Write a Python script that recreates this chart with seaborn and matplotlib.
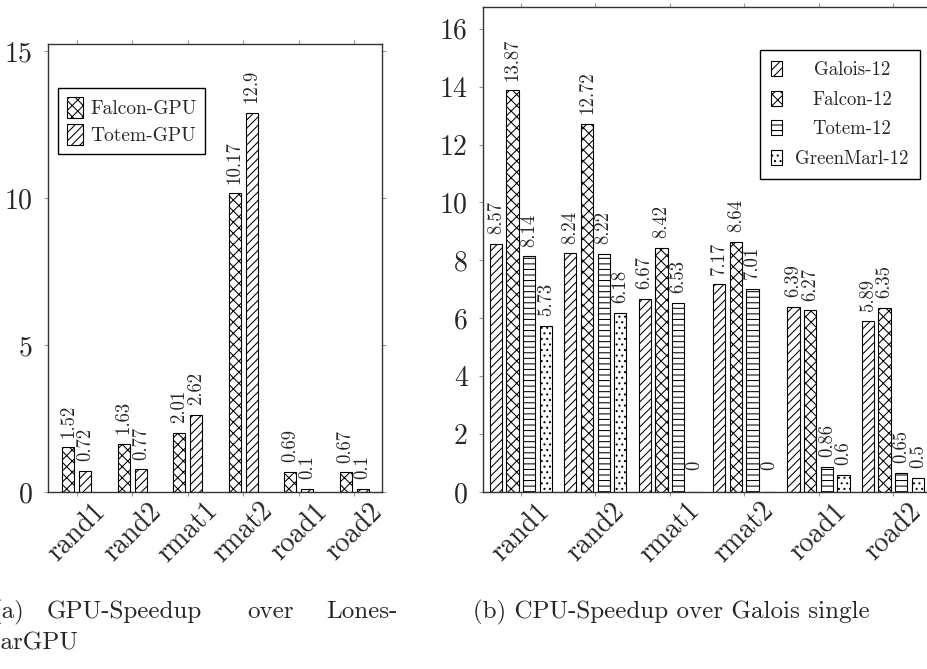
import matplotlib
matplotlib.use("Agg")
import matplotlib.pyplot as plt
import seaborn as sns
import pandas as pd

# ---- data ----
graphs = ["rand1", "rand2", "rmat1", "rmat2", "road1", "road2"]

gpu_series = ["Falcon-GPU", "Totem-GPU"]
falcon_gpu = [1.52, 1.63, 2.01, 10.17, 0.69, 0.67]
totem_gpu = [0.72, 0.77, 2.62, 12.9, 0.1, 0.1]

cpu_series = ["Galois-12", "Falcon-12", "Totem-12", "GreenMarl-12"]
galois_12 = [8.57, 8.24, 6.67, 7.17, 6.39, 5.89]
falcon_12 = [13.87, 12.72, 8.42, 8.64, 6.27, 6.35]
totem_12 = [8.14, 8.22, 6.53, 7.01, 0.86, 0.65]
greenmarl_12 = [5.73, 6.18, 0, 0, 0.6, 0.5]

gpu_yticks = [0, 5, 10, 15]
cpu_yticks = [0, 2, 4, 6, 8, 10, 12, 14, 16]

caption_a1 = ["(a)", "GPU-Speedup", "over", "Lones-"]
caption_a2 = "starGPU"
caption_b = "(b) CPU-Speedup over Galois single"

# ---- style ----
sns.set_style("white")
plt.rcParams["font.family"] = ["cmr10", "DejaVu Serif"]
plt.rcParams["axes.formatter.use_mathtext"] = True
plt.rcParams["hatch.linewidth"] = 0.75
plt.rcParams["hatch.color"] = "black"

W, H = 927, 669
fig = plt.figure(figsize=(W / 100, H / 100), dpi=100)


def px_axes(x0, y0, x1, y1):
    return fig.add_axes([x0 / W, 1 - y1 / H, (x1 - x0) / W, (y1 - y0) / H])


ax1 = px_axes(48, 44, 382, 492)
ax2 = px_axes(483, 7, 945, 492)

df_gpu = pd.DataFrame({
    "graph": graphs * 2,
    "series": [gpu_series[0]] * 6 + [gpu_series[1]] * 6,
    "speedup": falcon_gpu + totem_gpu,
})
df_cpu = pd.DataFrame({
    "graph": graphs * 4,
    "series": sum([[s] * 6 for s in cpu_series], []),
    "speedup": galois_12 + falcon_12 + totem_12 + greenmarl_12,
})

gpu_hatches = ["xxx", "////"]
cpu_hatches = ["////", "xxx", "---", "..."]


def draw(ax, df, series, hatches, width, gap, ylim, yticks, labfs):
    sns.barplot(data=df, x="graph", y="speedup", hue="series", order=graphs,
                hue_order=series, palette=["white"] * len(series),
                edgecolor="black", linewidth=0.8, width=width, gap=gap,
                errorbar=None, legend=False, ax=ax, saturation=1)
    for cont, h in zip(ax.containers, hatches):
        for p in cont:
            p.set_hatch(h)
        labels = [f"{v:g}" for v in cont.datavalues]
        anns = ax.bar_label(cont, labels=labels, rotation=90, padding=7,
                            fontsize=labfs)
        for a, v in zip(anns, cont.datavalues):
            if v == 0:
                a.xyann = (0, 16)
    ax.set_ylim(*ylim)
    ax.set_yticks(yticks)
    ax.set_yticklabels([str(t) for t in yticks], fontsize=20)
    ax.set_xticks(range(len(graphs)))
    ax.set_xticklabels(graphs, rotation=45, ha="center", va="center",
                       rotation_mode="anchor", fontsize=20)
    ax.set_xlabel("")
    ax.set_ylabel("")
    for s in ax.spines.values():
        s.set_visible(True)
        s.set_color("#333333")
        s.set_linewidth(1.0)
    ax.tick_params(axis="x", which="major", direction="out", length=3,
                   width=0.8, color="#999999", top=True, bottom=True)
    ax.tick_params(axis="x", which="major", pad=26)
    ax.tick_params(axis="y", which="major", direction="out", length=3,
                   width=0.8, color="#999999", left=True, right=True, pad=8)
    return ax.containers


c1 = draw(ax1, df_gpu, gpu_series, gpu_hatches, 0.612, 0.294,
          (0, 15.25), gpu_yticks, 13.5)
c2 = draw(ax2, df_cpu, cpu_series, cpu_hatches, 0.896, 0.263,
          (0, 16.75), cpu_yticks, 13.5)
ax1.set_xlim(-0.52, 5.5)
ax2.set_xlim(-0.51, -0.51 + (945 - 483) / 74.4)

leg1 = ax1.legend(handles=[c[0] for c in c1], labels=gpu_series,
                  loc="upper left", bbox_to_anchor=(58 / W, 1 - 88 / H),
                  bbox_transform=fig.transFigure, borderaxespad=0,
                  fontsize=14, handlelength=0.85, handleheight=1.3,
                  handletextpad=0.35, labelspacing=0.3, borderpad=0.45,
                  fancybox=False, framealpha=1, edgecolor="black")
leg1.get_frame().set_linewidth(1.0)

leg2 = ax2.legend(handles=[c[0] for c in c2], labels=cpu_series,
                  loc="upper right", bbox_to_anchor=(920 / W, 1 - 50 / H),
                  bbox_transform=fig.transFigure, borderaxespad=0,
                  fontsize=13.5, handlelength=0.6, handleheight=0.85,
                  handletextpad=0.7, labelspacing=0.62, borderpad=0.6,
                  fancybox=False, framealpha=1, edgecolor="black")
leg2.get_frame().set_linewidth(1.0)

# centre the entry texts of the CPU legend within the text column
fig.canvas.draw()
r = fig.canvas.get_renderer()
widths = [t.get_window_extent(r).width for t in leg2.get_texts()]
wmax = max(widths)
for t, w in zip(leg2.get_texts(), widths):
    t.set_x((wmax - w) / 2)

# ---- captions (justified like the LaTeX subcaptions) ----
cap_fs = 18
line1_y = 1 - 618 / H
line2_y = 1 - 649 / H
fig.text(24 / W, line1_y, caption_a1[0], ha="right", va="baseline", fontsize=cap_fs)
fig.text(47 / W, line1_y, caption_a1[1], ha="left", va="baseline", fontsize=cap_fs)
fig.text(247 / W, line1_y, caption_a1[2], ha="left", va="baseline", fontsize=cap_fs)
fig.text(398 / W, line1_y, caption_a1[3], ha="right", va="baseline", fontsize=cap_fs)
fig.text(78 / W, line2_y, caption_a2, ha="right", va="baseline", fontsize=cap_fs)
fig.text(473 / W, line1_y, caption_b, ha="left", va="baseline", fontsize=cap_fs)

fig.savefig("out.png", dpi=100)
